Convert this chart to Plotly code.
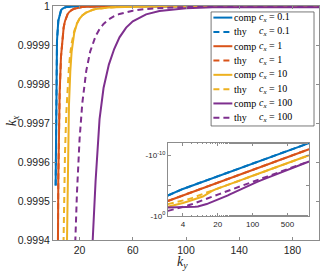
import plotly.graph_objects as go

# ---------------- data ----------------
k_y = [2, 3, 4, 5, 6, 7, 8, 9, 10, 11, 12, 13, 14,
       16, 18, 20, 22, 25, 28, 30, 32, 35, 38,
       42, 46, 50, 55, 60, 70, 80, 90, 100,
       120, 150, 200, 300, 500, 800, 1350]

# deficits 1 - k_x for every series
comp_01 = [4.6e-4, 8.9e-5, 3.75e-5, 1.92e-5, 1.11e-5, 7.0e-6, 4.69e-6, 3.29e-6, 2.4e-6, 1.8e-6, 1.39e-6, 1.09e-6, 8.75e-7,
           5.86e-7, 4.12e-7, 3.0e-7, 2.25e-7, 1.54e-7, 1.09e-7, 8.9e-8, 7.3e-8, 5.6e-8, 4.37e-8,
           3.24e-8, 2.47e-8, 1.92e-8, 1.44e-8, 1.11e-8, 7.0e-9, 4.69e-9, 3.29e-9, 2.4e-9,
           1.39e-9, 7.1e-10, 3.0e-10, 8.9e-11, 1.92e-11, 4.69e-12, 9.75e-13]
thy_01 = [4.6e-4, 8.9e-5, 3.75e-5, 1.92e-5, 1.11e-5, 7.0e-6, 4.69e-6, 3.29e-6, 2.4e-6, 1.8e-6, 1.39e-6, 1.09e-6, 8.75e-7,
          5.86e-7, 4.12e-7, 3.0e-7, 2.25e-7, 1.54e-7, 1.09e-7, 8.9e-8, 7.3e-8, 5.6e-8, 4.37e-8,
          3.24e-8, 2.47e-8, 1.92e-8, 1.44e-8, 1.11e-8, 7.0e-9, 4.69e-9, 3.29e-9, 2.4e-9,
          1.39e-9, 7.1e-10, 3.0e-10, 8.9e-11, 1.92e-11, 4.69e-12, 9.75e-13]
comp_1 = [3.6e-3, 1.04e-3, 4.4e-4, 2.24e-4, 1.3e-4, 8.2e-5, 5.5e-5, 3.85e-5, 2.8e-5, 2.08e-5, 1.58e-5, 1.24e-5, 9.9e-6,
          6.5e-6, 4.5e-6, 3.25e-6, 2.42e-6, 1.63e-6, 1.15e-6, 9.3e-7, 7.6e-7, 5.8e-7, 4.56e-7,
          3.37e-7, 2.57e-7, 2.0e-7, 1.5e-7, 1.16e-7, 7.3e-8, 4.9e-8, 3.43e-8, 2.5e-8,
          1.45e-8, 7.4e-9, 3.13e-9, 9.3e-10, 2.0e-10, 4.9e-11, 1.02e-11]
thy_1 = [3.6e-3, 1.04e-3, 4.4e-4, 2.24e-4, 1.3e-4, 8.2e-5, 5.5e-5, 3.85e-5, 2.8e-5, 2.08e-5, 1.58e-5, 1.24e-5, 9.9e-6,
         6.5e-6, 4.5e-6, 3.25e-6, 2.42e-6, 1.63e-6, 1.15e-6, 9.3e-7, 7.6e-7, 5.8e-7, 4.56e-7,
         3.37e-7, 2.57e-7, 2.0e-7, 1.5e-7, 1.16e-7, 7.3e-8, 4.9e-8, 3.43e-8, 2.5e-8,
         1.45e-8, 7.4e-9, 3.13e-9, 9.3e-10, 2.0e-10, 4.9e-11, 1.02e-11]
comp_10 = [3.2e-2, 1.56e-2, 7.8e-3, 4.56e-3, 2.87e-3, 1.92e-3, 1.35e-3, 9.6e-4, 6.8e-4, 4.2e-4, 2.55e-4, 1.68e-4, 1.17e-4,
           6.8e-5, 4.5e-5, 3.2e-5, 2.4e-5, 1.63e-5, 1.15e-5, 9.3e-6, 7.6e-6, 5.8e-6, 4.56e-6,
           3.37e-6, 2.57e-6, 2.0e-6, 1.5e-6, 1.16e-6, 7.3e-7, 4.9e-7, 3.43e-7, 2.5e-7,
           1.45e-7, 7.4e-8, 3.13e-8, 9.3e-9, 2.0e-9, 4.9e-10, 1.02e-10]
thy_10 = [1.2e-2, 6.0e-3, 3.3e-3, 1.95e-3, 1.22e-3, 8.0e-4, 5.5e-4, 3.8e-4, 2.74e-4, 2.04e-4, 1.56e-4, 1.21e-4, 9.6e-5,
          6.4e-5, 4.4e-5, 3.2e-5, 2.38e-5, 1.62e-5, 1.14e-5, 9.3e-6, 7.6e-6, 5.8e-6, 4.56e-6,
          3.37e-6, 2.57e-6, 2.0e-6, 1.5e-6, 1.16e-6, 7.3e-7, 4.9e-7, 3.43e-7, 2.5e-7,
          1.45e-7, 7.4e-8, 3.13e-8, 9.3e-9, 2.0e-9, 4.9e-10, 1.02e-10]
comp_100 = [4.5e-2, 4.4e-2, 4.3e-2, 4.1e-2, 3.8e-2, 3.4e-2, 2.9e-2, 2.4e-2, 1.9e-2, 1.5e-2, 1.18e-2, 9.2e-3, 7.3e-3,
            4.6e-3, 3.0e-3, 2.0e-3, 1.45e-3, 1.0e-3, 7.3e-4, 5.8e-4, 4.5e-4, 2.9e-4, 2.1e-4,
            1.5e-4, 1.1e-4, 8.0e-5, 5.5e-5, 3.9e-5, 2.1e-5, 1.25e-5, 8.0e-6, 5.4e-6,
            2.8e-6, 1.3e-6, 5.0e-7, 1.35e-7, 2.5e-8, 5.6e-9, 1.08e-9]
thy_100 = [0.16, 7.2e-2, 3.7e-2, 2.1e-2, 1.28e-2, 8.3e-3, 5.6e-3, 3.9e-3, 2.85e-3, 2.12e-3, 1.63e-3, 1.28e-3, 1.02e-3,
           6.8e-4, 4.8e-4, 3.4e-4, 2.5e-4, 1.66e-4, 1.16e-4, 9.4e-5, 7.7e-5, 5.85e-5, 4.56e-5,
           3.37e-5, 2.57e-5, 2.0e-5, 1.5e-5, 1.16e-5, 7.3e-6, 4.9e-6, 3.43e-6, 2.5e-6,
           1.45e-6, 7.4e-7, 3.13e-7, 9.3e-8, 2.0e-8, 4.9e-9, 1.02e-9]

c_labels = ["0.1", "1", "10", "100"]
colors = ["#0072BD", "#D95319", "#EDB120", "#7E2F8E"]
main_yticks = [0.9994, 0.9995, 0.9996, 0.9997, 0.9998, 0.9999, 1.0]
main_yticktext = ["0.9994", "0.9995", "0.9996", "0.9997", "0.9998", "0.9999", "1"]
main_xticks = [20, 60, 100, 140, 180]
inset_xticks = [4, 20, 100, 500]
inset_yticks = [1e-10, 1e-5, 1.0]
inset_yticktext = ["-10<sup>-10</sup>", " ", "-10<sup>0</sup>"]

series = [(comp_01, thy_01), (comp_1, thy_1), (comp_10, thy_10), (comp_100, thy_100)]

# ---------------- figure ----------------
W, H = 320, 274
ML, MR, MT, MB = 53, 0, 4, 34
PW, PH = W - ML - MR, H - MT - MB


def px(x):
    return (x - ML) / PW


def py(y):
    return (MT + PH - y) / PH


DASH = "6px,4px"
fig = go.Figure()
for (comp, thy), col in zip(series, colors):
    for d, dash in ((comp, "solid"), (thy, DASH)):
        fig.add_trace(go.Scatter(x=k_y, y=[1 - v for v in d], mode="lines",
                                 line=dict(color=col, width=2, dash=dash),
                                 xaxis="x", yaxis="y", showlegend=False))
for (comp, thy), col in zip(series, colors):
    for d, dash in ((comp, "solid"), (thy, DASH)):
        fig.add_trace(go.Scatter(x=k_y, y=d, mode="lines",
                                 line=dict(color=col, width=2, dash=dash),
                                 xaxis="x2", yaxis="y2", showlegend=False))

axcol = "#8c8c8c"
tickfont = dict(family="Liberation Sans, Arial, sans-serif", size=10.5, color="#262626")
smallfont = dict(family="Liberation Sans, Arial, sans-serif", size=8, color="#262626")
fig.update_layout(
    width=W, height=H, margin=dict(l=ML, r=MR, t=MT, b=MB),
    paper_bgcolor="white", plot_bgcolor="white", showlegend=False,
    xaxis=dict(range=[0, 200], tickvals=main_xticks, ticks="inside", ticklen=3,
               showline=True, linecolor=axcol, linewidth=1, mirror="ticks",
               tickcolor=axcol, showgrid=False, zeroline=False, tickfont=tickfont,
               ticklabeloverflow="allow"),
    yaxis=dict(range=[0.9994, 1.0000004], tickvals=main_yticks, ticktext=main_yticktext,
               ticks="inside", ticklen=3, showline=True, linecolor=axcol, linewidth=1,
               mirror="ticks", tickcolor=axcol, showgrid=False, zeroline=False,
               tickfont=tickfont, ticklabeloverflow="allow"),
    xaxis2=dict(type="log", range=[0.301, 3.13], domain=[px(168.3), px(310)],
                anchor="y2", tickvals=inset_xticks, ticks="inside", ticklen=3,
                minor=dict(ticks="inside", ticklen=1.5, tickcolor=axcol),
                showline=True, linecolor=axcol, linewidth=1, mirror="ticks",
                tickcolor=axcol, showgrid=False, zeroline=False, tickfont=smallfont),
    yaxis2=dict(type="log", range=[0.08, -12.05], domain=[py(216), py(142)],
                anchor="x2", tickvals=inset_yticks, ticktext=inset_yticktext,
                ticks="inside", ticklen=3, showline=True, linecolor=axcol, linewidth=1,
                mirror="ticks", tickcolor=axcol, showgrid=False, zeroline=False,
                tickfont=smallfont),
)

shapes = []
annotations = []
# inset background
shapes.append(dict(type="rect", xref="paper", yref="paper", x0=px(168.3), x1=px(310),
                   y0=py(216), y1=py(142), fillcolor="white", line=dict(width=0), layer="below"))
# legend box
shapes.append(dict(type="rect", xref="paper", yref="paper", x0=px(211.7), x1=px(315),
                   y0=py(125), y1=py(10), fillcolor="white", line=dict(color="#555", width=0.8),
                   layer="above"))
serif = "Liberation Serif, Times New Roman, serif"
for i in range(8):
    yc = 15.7 + i * 14.43
    col = colors[i // 2]
    is_thy = i % 2 == 1
    shapes.append(dict(type="line", xref="paper", yref="paper", x0=px(214), x1=px(233),
                       y0=py(yc), y1=py(yc),
                       line=dict(color=col, width=2, dash=DASH if is_thy else "solid"),
                       layer="above"))
    annotations.append(dict(xref="paper", yref="paper", x=px(234), y=py(yc),
                            text="thy" if is_thy else "comp", showarrow=False,
                            xanchor="left", yanchor="middle", borderpad=0,
                            font=dict(family=serif, size=10, color="black")))
    annotations.append(dict(xref="paper", yref="paper", x=px(259), y=py(yc),
                            text="<i>c<sub>x</sub></i> = " + c_labels[i // 2], showarrow=False,
                            xanchor="left", yanchor="middle", borderpad=0,
                            font=dict(family=serif, size=10, color="black")))

# axis titles
annotations.append(dict(xref="paper", yref="paper", x=px(183), y=py(263),
                        text="<i>k<sub>y</sub></i>", showarrow=False,
                        xanchor="center", yanchor="middle",
                        font=dict(family=serif, size=14, color="#262626")))
annotations.append(dict(xref="paper", yref="paper", x=px(12), y=py(120),
                        text="<i>k<sub>x</sub></i>", showarrow=False, textangle=-90,
                        xanchor="center", yanchor="middle",
                        font=dict(family=serif, size=14, color="#262626")))
fig.update_layout(shapes=shapes, annotations=annotations)

fig.write_html("out.html", config={"displayModeBar": False},
               post_script="document.body.style.margin='0';document.body.style.padding='0';")
